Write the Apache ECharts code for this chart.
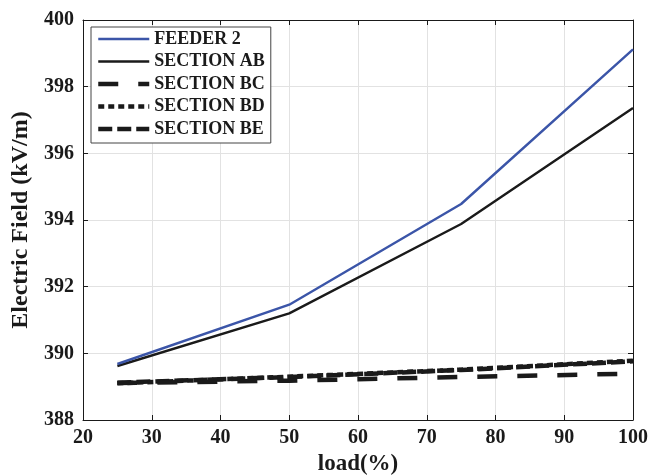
<!DOCTYPE html>
<html>
<head>
<meta charset="utf-8">
<script src="https://cdn.jsdelivr.net/npm/echarts@6/dist/echarts.min.js"></script>
<style>
html,body{margin:0;padding:0;background:#fff;}
#c{width:648px;height:475px;}
</style>
</head>
<body>
<div id="c"></div>
<script>
const loadPct = [25, 50, 75, 100];
const feeder2 = [389.68, 391.46, 394.48, 399.12];
const sectionAB = [389.62, 391.20, 393.88, 397.36];
const sectionBC = [389.11, 389.18, 389.29, 389.39];
const sectionBD = [389.10, 389.30, 389.51, 389.78];
const sectionBE = [389.12, 389.29, 389.50, 389.76];
const seriesNames = ['FEEDER 2', 'SECTION AB', 'SECTION BC', 'SECTION BD', 'SECTION BE'];
const xTicks = {min: 20, max: 100, interval: 10};
const yTicks = {min: 388, max: 400, interval: 2};

const FONT = '"Liberation Serif", "Times New Roman", serif';
const pairs = arr => loadPct.map((x, i) => [x, arr[i]]);

const styles = [
  {color: '#3B55A8', width: 2.4, type: 'solid'},
  {color: '#1a1a1a', width: 2.4, type: 'solid'},
  {color: '#1a1a1a', width: 4.5, type: [20, 20]},
  {color: '#1a1a1a', width: 4.5, type: [6, 4]},
  {color: '#1a1a1a', width: 4.5, type: [14, 5]}
];
const dataArrs = [feeder2, sectionAB, sectionBC, sectionBD, sectionBE];

const axisCommon = {
  axisLine: {show: true, onZero: false, lineStyle: {color: '#1a1a1a', width: 1}},
  axisTick: {show: true, inside: true, length: 5, lineStyle: {color: '#1a1a1a'}},
};

const chart = echarts.init(document.getElementById('c'), null, {renderer: 'canvas'});
chart.setOption({
  animation: false,
  backgroundColor: '#fff',
  grid: {left: 83, right: 15, top: 20, bottom: 55, containLabel: false, outerBoundsMode: 'none'},
  legend: {
    orient: 'vertical',
    left: 91, top: 27,
    padding: [3, 6, 5, 5],
    itemWidth: 51, itemHeight: 14, itemGap: 4.5,
    backgroundColor: '#fff',
    borderColor: '#444', borderWidth: 1,
    textStyle: {fontFamily: FONT, fontWeight: 'bold', fontSize: 18, color: '#1a1a1a'},
    data: seriesNames.map((n, i) => ({
      name: n,
      itemStyle: {color: 'rgba(0,0,0,0)', borderWidth: 0, opacity: 0},
      lineStyle: {color: styles[i].color, width: styles[i].width, type: styles[i].type}
    }))
  },
  xAxis: [
    Object.assign({
      type: 'value', position: 'bottom',
      min: xTicks.min, max: xTicks.max, interval: xTicks.interval,
      name: 'load(%)', nameLocation: 'middle', nameGap: 30,
      nameTextStyle: {fontFamily: FONT, fontWeight: 'bold', fontSize: 23, color: '#1a1a1a'},
      axisLabel: {fontFamily: FONT, fontWeight: 'bold', fontSize: 20, color: '#1a1a1a', margin: 8},
      splitLine: {show: true, lineStyle: {color: '#e2e2e2', width: 1}}
    }, axisCommon),
    Object.assign({
      type: 'value', position: 'top',
      min: xTicks.min, max: xTicks.max, interval: xTicks.interval,
      axisLabel: {show: false}, splitLine: {show: false}
    }, axisCommon)
  ],
  yAxis: [
    Object.assign({
      type: 'value', position: 'left',
      min: yTicks.min, max: yTicks.max, interval: yTicks.interval,
      name: 'Electric Field (kV/m)', nameLocation: 'middle', nameGap: 45, nameRotate: 90,
      nameTextStyle: {fontFamily: FONT, fontWeight: 'bold', fontSize: 24, color: '#1a1a1a'},
      axisLabel: {fontFamily: FONT, fontWeight: 'bold', fontSize: 20, color: '#1a1a1a', margin: 9},
      splitLine: {show: true, lineStyle: {color: '#e2e2e2', width: 1}}
    }, axisCommon),
    Object.assign({
      type: 'value', position: 'right',
      min: yTicks.min, max: yTicks.max, interval: yTicks.interval,
      axisLabel: {show: false}, splitLine: {show: false}
    }, axisCommon)
  ],
  series: seriesNames.map((n, i) => ({
    name: n,
    type: 'line',
    xAxisIndex: 0, yAxisIndex: 0,
    data: pairs(dataArrs[i]),
    showSymbol: false, symbol: 'none',
    lineStyle: {color: styles[i].color, width: styles[i].width, type: styles[i].type, cap: 'butt'},
    itemStyle: {color: styles[i].color},
    z: 10 - i
  }))
});
</script>
</body>
</html>
